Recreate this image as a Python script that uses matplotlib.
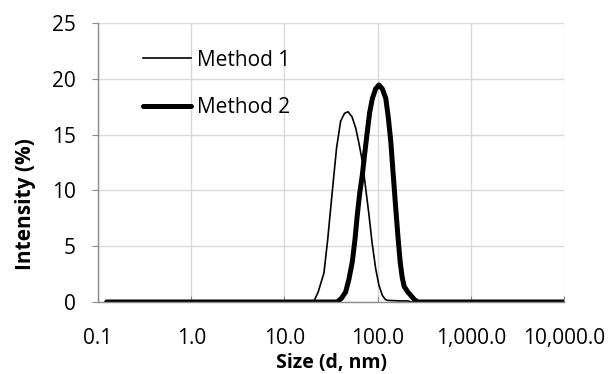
import matplotlib
matplotlib.use("Agg")
import matplotlib.pyplot as plt

# ---------------------------------------------------------------------------
# Data
# ---------------------------------------------------------------------------

size_m1 = [0.124, 1.0, 10.0, 20.5, 23.0, 26.5, 29.0, 31.3, 34.0, 36.2, 40.0,
           44.0, 48.0, 53.0, 58.0, 63.0, 68.4, 74.0, 80.6, 87.0, 95.0, 103.0,
           112.0, 120.0, 126.0, 170.0, 209.0, 230.0, 1000.0, 10000.0]
intensity_m1 = [0, 0, 0, 0, 0.9, 2.6, 5.5, 8.4, 11.5, 13.8, 16.2,
                16.9, 17.05, 16.6, 15.6, 14.2, 12.6, 10.3, 7.8, 5.3, 3.0, 1.5,
                0.6, 0.25, 0.15, 0.1, 0.1, 0, 0, 0]

size_m2 = [0.124, 1.0, 10.0, 36.8, 41.0, 45.3, 49.0, 53.4, 57.0, 60.4, 64.0,
           68.4, 73.0, 77.4, 82.0, 87.7, 95.0, 103.0, 112.0, 122.0, 130.0,
           138.0, 147.0, 156.0, 165.0, 174.0, 183.0, 192.0, 210.0, 226.0,
           248.0, 269.0, 1000.0, 10000.0]
intensity_m2 = [0, 0, 0, 0, 0.35, 0.9, 2.0, 3.6, 5.6, 7.8, 9.7,
                11.4, 13.5, 15.3, 17.0, 18.25, 19.1, 19.45, 19.1, 18.25, 16.5,
                14.4, 11.3, 8.4, 5.8, 3.6, 2.2, 1.4, 0.9, 0.6,
                0.2, 0, 0, 0]

x_ticks = [0.1, 1, 10, 100, 1000, 10000]
x_tick_labels = ["0.1", "1.0", "10.0", "100.0", "1,000.0", "10,000.0"]
y_ticks = [0, 5, 10, 15, 20, 25]

# ---------------------------------------------------------------------------
# Plot
# ---------------------------------------------------------------------------

plt.rcParams["font.family"] = ["Open Sans", "DejaVu Sans"]
FS = 15

fig = plt.figure(figsize=(6.12, 3.74), dpi=100)
ax = fig.add_axes([0.160, 0.1925, 0.762, 0.746])

ax.plot(size_m1, intensity_m1, color="black", lw=1.2, label="Method 1")
ax.plot(size_m2, intensity_m2, color="black", lw=3.6, label="Method 2",
        solid_capstyle="round")

ax.set_xscale("log")
ax.set_xlim(0.1, 10000)
ax.set_ylim(0, 25)
ax.set_xticks(x_ticks)
ax.set_xticklabels(x_tick_labels)
ax.minorticks_off()
ax.set_yticks(y_ticks)

ax.grid(True, color="#d9d9d9", lw=1.0)
ax.set_axisbelow(True)
for side in ("top", "right"):
    ax.spines[side].set_visible(False)
for side in ("left", "bottom"):
    ax.spines[side].set_color("#8c8c8c")
    ax.spines[side].set_linewidth(1.0)

ax.tick_params(axis="y", direction="out", length=4, color="#8c8c8c",
               labelsize=FS, pad=12)
ax.tick_params(axis="x", direction="in", length=4, color="#8c8c8c",
               labelsize=FS, pad=19)

ax.set_xlabel("Size (d, nm)", fontsize=14, fontweight="bold", va="center")
ax.xaxis.set_label_coords(0.5, -0.2186)
ax.set_ylabel("Intensity (%)", fontsize=FS, fontweight="bold", va="center")
ax.yaxis.set_label_coords(-0.155, 0.35)

ax.legend(loc="upper left", bbox_to_anchor=(0.066, 0.957), frameon=False,
          fontsize=FS, handlelength=2.3, handletextpad=0.3, labelspacing=1.28,
          borderaxespad=0.3)

fig.savefig("out.png", dpi=100)
